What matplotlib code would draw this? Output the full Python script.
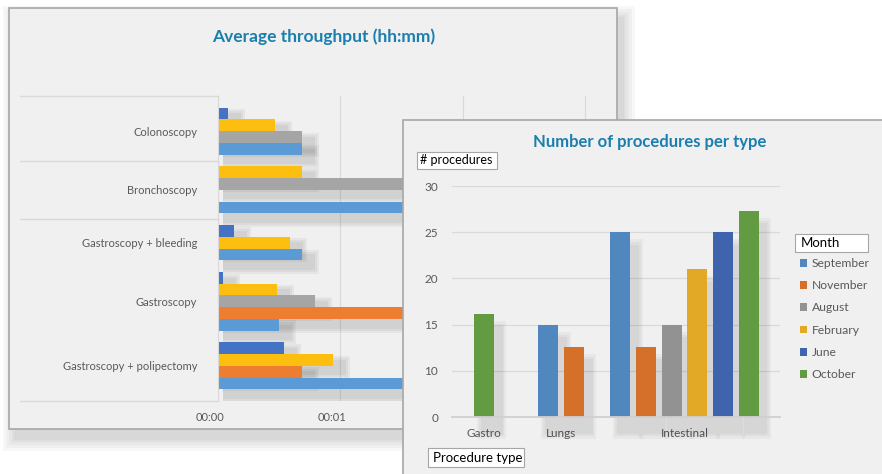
import matplotlib.pyplot as plt
from matplotlib.patches import Rectangle, Patch
from matplotlib.transforms import blended_transform_factory, offset_copy

plt.rcParams['font.family'] = ['Lato', 'DejaVu Sans']

# average throughput per procedure (minutes), rows listed top to bottom
tp_categories = ['Colonoscopy', 'Bronchoscopy', 'Gastroscopy + bleeding',
                 'Gastroscopy', 'Gastroscopy + polipectomy']
tp_months = [
    ['June', 'February', 'August', 'September'],
    ['February', 'August', 'November', 'September'],
    ['June', 'February', 'September'],
    ['June', 'February', 'August', 'November', 'September'],
    ['June', 'February', 'November', 'September'],
]
tp_minutes = [
    [0.08, 0.47, 0.69, 0.69],
    [0.69, 1.9, 0.0, 2.3],
    [0.13, 0.59, 0.69],
    [0.04, 0.48, 0.79, 1.8, 0.50],
    [0.54, 0.94, 0.69, 2.1],
]
tp_ticks = ['00:00', '00:01', '00:02', '00:03']

# number of procedures per type
proc_types = ['Gastro', 'Lungs', 'Intestinal']
proc_months = [
    ['October'],
    ['September', 'November'],
    ['September', 'November', 'August', 'February', 'June', 'October'],
]
proc_counts = [[16.2], [15, 12.6], [25, 12.6, 15, 21, 25, 27.3]]
legend_months = ['September', 'November', 'August', 'February', 'June', 'October']

back_colors = {'September': '#5b9bd5', 'November': '#ed7d31', 'August': '#a5a5a5',
               'February': '#fcbf10', 'June': '#4472c4', 'October': '#70ad47'}
front_colors = {'September': '#5087bf', 'November': '#d5702b', 'August': '#929292',
                'February': '#e2a927', 'June': '#3f64ad', 'October': '#629b42'}
title_col = '#1a7fae'
panel_bg = '#f0f0f0'
border = '#a6a6a6'
grid_col = '#d9d9d9'
txt_col = '#595959'

W, H = 882, 474
fig = plt.figure(figsize=(W / 100, H / 100), dpi=100)
fig.patch.set_facecolor('white')


def px_rect(x0, y0, x1, y1):
    return [x0 / W, 1 - y1 / H, (x1 - x0) / W, (y1 - y0) / H]


def deco_axes(z):
    a = fig.add_axes([0, 0, 1, 1], zorder=z)
    a.set_xlim(0, W)
    a.set_ylim(H, 0)
    a.axis('off')
    return a


# ---------------- back panel ----------------
deco_b = deco_axes(0)
for s in (12, 9, 6, 3, 1):
    deco_b.add_patch(Rectangle((9 + 6 - s, 8 + 10 - s), 608 + 2 * s, 421 + 2 * s,
                               facecolor='black', alpha=0.03, lw=0))
deco_b.add_patch(Rectangle((9, 8), 608, 421, facecolor=panel_bg, edgecolor=border, lw=1.2))
deco_b.text(324, 37, 'Average throughput (hh:mm)', ha='center', va='center',
            fontsize=12.5, fontweight='bold', color=title_col)

ax1 = fig.add_axes(px_rect(218, 96, 612, 401), zorder=1)
ax1.set_facecolor('none')
ax1.set_xlim(0, (612 - 218) / 122.3)

k = 1
centers, seps = [], [0]
for months, vals in zip(tp_months, tp_minutes):
    ys = [k + i + 0.5 for i in range(len(vals))]
    for y, m, v in zip(ys, months, vals):
        if v <= 0:
            continue
        for s in (6, 4, 2):
            ax1.add_patch(Rectangle((0.04, y - 0.5 + 0.65 - s / 11.7),
                                    v + 0.05 + s / 122.3, 1 + 2 * s / 11.7,
                                    facecolor='black', alpha=0.045, lw=0, zorder=1))
    ax1.barh(ys, vals, height=1.0, color=[back_colors[m] for m in months], zorder=2)
    centers.append(k + len(vals) / 2)
    k += len(vals) + 1
    seps.append(k - 0.5)
ax1.set_ylim(k, 0)

ax1.set_yticks(centers, tp_categories)
ax1.set_xticks(range(len(tp_ticks)), tp_ticks)
ax1.tick_params(axis='y', length=0, pad=15, labelsize=8, labelcolor=txt_col)
ax1.tick_params(axis='x', length=0, pad=8, labelsize=8, labelcolor=txt_col)
for lab in ax1.get_xticklabels():
    lab.set_transform(offset_copy(lab.get_transform(), fig, x=-8, units='dots'))
ax1.grid(axis='x', color=grid_col, lw=0.8, zorder=0)
ax1.set_axisbelow(True)
for sp in ('top', 'right', 'bottom'):
    ax1.spines[sp].set_visible(False)
ax1.spines['left'].set_color(grid_col)

trans = blended_transform_factory(ax1.transAxes, ax1.transData)
x_left = (20 - 218) / (612 - 218)
for y in [seps[0], seps[1], seps[2], k]:
    ax1.plot([x_left, 0], [y, y], color=grid_col, lw=1.0, transform=trans, clip_on=False)

# ---------------- front panel ----------------
deco_f = deco_axes(2)
deco_f.add_patch(Rectangle((403, 120), 490, 370, facecolor=panel_bg, edgecolor=border, lw=1.2))
deco_f.text(650, 142, 'Number of procedures per type', ha='center', va='center',
            fontsize=12, fontweight='bold', color=title_col)
deco_f.add_patch(Rectangle((417, 152), 80, 17, facecolor='white', edgecolor=border, lw=0.8))
deco_f.text(420, 160.5, '# procedures', ha='left', va='center', fontsize=9, color='black')
deco_f.add_patch(Rectangle((428, 448), 96, 19, facecolor='white', edgecolor=border, lw=0.8))
deco_f.text(433, 457.5, 'Procedure type', ha='left', va='center', fontsize=9.5, color='black')
deco_f.add_patch(Rectangle((795, 234), 73, 18, facecolor='white', edgecolor=border, lw=0.8))
deco_f.text(801, 243, 'Month', ha='left', va='center', fontsize=9.5, color='black')

ax2 = fig.add_axes(px_rect(452, 186, 780, 417), zorder=3)
ax2.set_facecolor('none')
unit = 25.7
ax2.set_xlim(-32 / unit, -32 / unit + 328 / unit)
ax2.set_ylim(5, 30)

group_gaps = [1.5, 0.8]
bw = 0.78
x = 0.0
ticks = []
for gi, (months, counts) in enumerate(zip(proc_months, proc_counts)):
    xs = [x + i for i in range(len(counts))]
    for xi, c in zip(xs, counts):
        for s in (0.18, 0.1, 0.04):
            ax2.add_patch(Rectangle((xi - bw / 2 + 0.3 - s, 3.3 - s * 4),
                                    bw + 2 * s, c - 1.5 - 3.3 + s * 8,
                                    facecolor='black', alpha=0.035, lw=0,
                                    zorder=1, clip_on=False))
    ax2.bar(xs, counts, width=bw, color=[front_colors[m] for m in months], zorder=2)
    ticks.append(sum(xs) / len(xs))
    x = xs[-1] + 1 + (group_gaps[gi] if gi < len(group_gaps) else 0)

ax2.set_xticks(ticks, proc_types)
ax2.set_yticks([5, 10, 15, 20, 25, 30], ['0', '10', '15', '20', '25', '30'])
ax2.tick_params(axis='both', length=0, labelsize=8.5, labelcolor=txt_col)
ax2.tick_params(axis='y', pad=10)
ax2.tick_params(axis='x', pad=8)
ax2.grid(axis='y', color=grid_col, lw=0.9, zorder=0)
ax2.set_axisbelow(True)
for sp in ('top', 'right', 'left'):
    ax2.spines[sp].set_visible(False)
ax2.spines['bottom'].set_color('#d0d0d0')
ax2.spines['bottom'].set_linewidth(1.3)

handles = [Patch(facecolor=front_colors[m], edgecolor='none') for m in legend_months]
ax2.legend(handles, legend_months, loc='upper left',
           bbox_to_anchor=(800 / W, 1 - 258 / H), bbox_transform=fig.transFigure,
           frameon=False, fontsize=8.7, labelcolor=txt_col,
           handlelength=0.6, handleheight=0.6, handletextpad=0.35,
           labelspacing=0.93, borderpad=0, borderaxespad=0)

fig.savefig('out.png', dpi=100, facecolor='white')
